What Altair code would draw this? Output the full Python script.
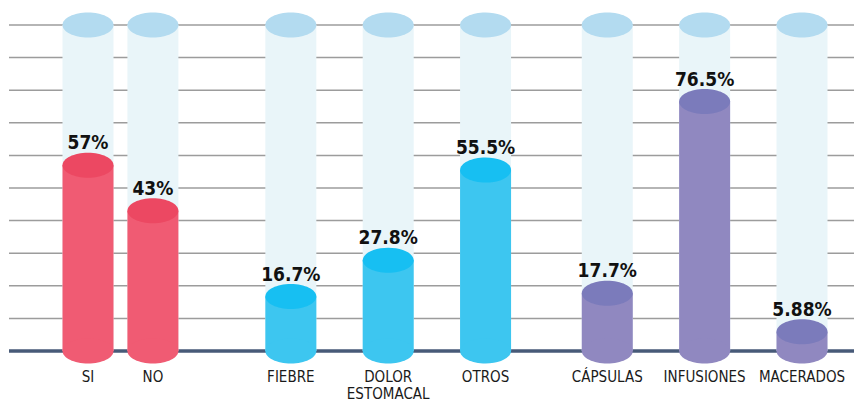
import altair as alt
import pandas as pd

categories = ["SI", "NO", "FIEBRE", "DOLOR\nESTOMACAL", "OTROS", "CÁPSULAS", "INFUSIONES", "MACERADOS"]
values = [57, 43, 16.7, 27.8, 55.5, 17.7, 76.5, 5.88]
value_labels = ["57%", "43%", "16.7%", "27.8%", "55.5%", "17.7%", "76.5%", "5.88%"]
groups = ["g1", "g1", "g2", "g2", "g2", "g3", "g3", "g3"]
grid_values = [10, 20, 30, 40, 50, 60, 70, 80, 90, 100]

body_colors = {"g1": "#f05b73", "g2": "#3dc6f0", "g3": "#9088c0"}
top_colors = {"g1": "#ec4862", "g2": "#17bff2", "g3": "#7b7bbb"}

# slot layout on a fine point grid (spacers between categories)
slots = [0, 8, 25, 37, 49, 64, 76, 88]
domain = []
for i in range(89):
    if i in slots:
        domain.append(categories[slots.index(i)])
    else:
        domain.append(f"_s{i}")

df = pd.DataFrame({
    "cat": categories,
    "value": values,
    "label": value_labels,
    "body": [body_colors[g] for g in groups],
    "top": [top_colors[g] for g in groups],
    "full": [100] * len(categories),
    "zero": [0] * len(categories),
})

W, H = 846, 395
xscale = alt.Scale(type="point", domain=domain, range=[80.0, 794.0], padding=0)
yscale = alt.Scale(domain=[-15.95, 105.21], nice=False, zero=False)

BAR_W = 51
ellipse = "M -1 0 A 1 0.49 0 1 1 1 0 A 1 0.49 0 1 1 -1 0 Z"
ELL_SIZE = BAR_W * BAR_W
FONT = "DejaVu Sans Condensed, Liberation Sans Narrow, Roboto, sans-serif"

base = alt.Chart(df).encode(x=alt.X("cat:N", scale=xscale, axis=None))

grid = alt.Chart(pd.DataFrame({"g": grid_values})).mark_rule(
    color="#9c9c9c", strokeWidth=1.5
).encode(y=alt.Y("g:Q", scale=yscale, axis=None), x=alt.value(1), x2=alt.value(W))

baseline = alt.Chart(pd.DataFrame({"z": [0]})).mark_rule(
    color="#475a78", strokeWidth=3.5
).encode(y=alt.Y("z:Q", scale=yscale, axis=None), x=alt.value(1), x2=alt.value(W))

bg_body = base.mark_bar(size=BAR_W, color="#e9f5f9").encode(
    y=alt.Y("full:Q", scale=yscale, axis=None), y2="zero:Q"
)
bg_top = base.mark_point(
    shape=ellipse, filled=True, size=ELL_SIZE, opacity=1, color="#b3dbf0", strokeWidth=0
).encode(y=alt.Y("full:Q", scale=yscale, axis=None))

body = base.mark_bar(size=BAR_W).encode(
    y=alt.Y("value:Q", scale=yscale, axis=None), y2="zero:Q",
    color=alt.Color("body:N", scale=None, legend=None),
)
bottom = base.mark_point(
    shape=ellipse, filled=True, size=ELL_SIZE, opacity=1, strokeWidth=0
).encode(
    y=alt.Y("zero:Q", scale=yscale, axis=None),
    color=alt.Color("body:N", scale=None, legend=None),
)
top = base.mark_point(
    shape=ellipse, filled=True, size=ELL_SIZE, opacity=1, strokeWidth=0
).encode(
    y=alt.Y("value:Q", scale=yscale, axis=None),
    color=alt.Color("top:N", scale=None, legend=None),
)

val_text = base.mark_text(
    font=FONT, fontWeight="bold", fontSize=19,
    color="#111111", baseline="alphabetic", dy=-16,
).encode(y=alt.Y("value:Q", scale=yscale, axis=None), text="label:N")

cat_text = base.mark_text(
    font=FONT, fontSize=15, color="#1a1a1a",
    baseline="top", dy=19, lineBreak="\n", lineHeight=17,
).encode(y=alt.Y("zero:Q", scale=yscale, axis=None), text="cat:N")

chart = alt.layer(
    grid, baseline, bg_body, bg_top, body, bottom, top, val_text, cat_text
).properties(
    width=W, height=H, padding=0, autosize=alt.AutoSizeParams(type="none")
).configure_view(strokeWidth=0)

chart.save("out.html", embed_options={"renderer": "svg", "actions": False})
